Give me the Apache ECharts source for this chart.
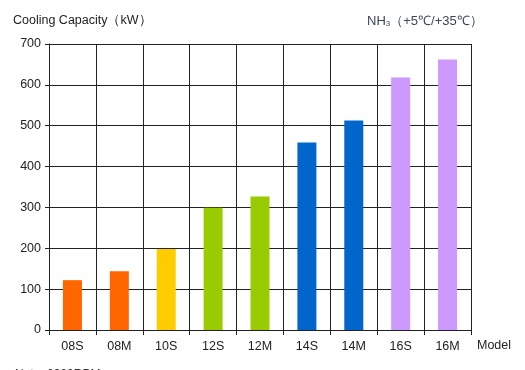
<!DOCTYPE html>
<html>
<head>
<meta charset="utf-8">
<script src="https://cdn.jsdelivr.net/npm/echarts@6/dist/echarts.min.js"></script>
<style>html,body{margin:0;padding:0;background:#fff;}#c{width:525px;height:370px;}</style>
</head>
<body>
<div id="c"></div>
<script>
const categories = ['08S','08M','10S','12S','12M','14S','14M','16S','16M'];
const capacity = [122, 144, 198, 299, 327, 459, 513, 618, 662];
const barColors = ['#FF6600','#FF6600','#FFCC00','#99CC00','#99CC00','#0066CC','#0066CC','#CC99FF','#CC99FF'];
const yTicks = [0,100,200,300,400,500,600,700];

const chart = echarts.init(document.getElementById('c'), null, {renderer:'canvas'});
chart.setOption({
  animation: false,
  backgroundColor: '#fff',
  title: [
    {text: 'Cooling Capacity（kW）', left: 8, top: 9, textStyle:{fontFamily:'Liberation Sans, Arial', fontSize:12.5, fontWeight:'normal', color:'#222'}},
    {text: '{a|NH}{s|3}{a|（+5℃/+35℃）}', left: 362, top: 9, textStyle:{fontWeight:'normal', rich:{
      a:{fontFamily:'Liberation Sans, Arial', fontSize:13, fontWeight:'normal', color:'#3a4660'},
      s:{fontFamily:'Liberation Sans, Arial', fontSize:8, fontWeight:'normal', color:'#3a4660', verticalAlign:'bottom', padding:[6,0,0,0]}
    }}},
    {text: 'Note: 2960RPM', left: 10, top: 364, textStyle:{fontFamily:'Liberation Sans, Arial', fontSize:12, fontWeight:'normal', color:'#333'}}
  ],
  grid: {left: 49, right: 54, top: 44, bottom: 40, containLabel: false},
  xAxis: {
    type: 'category',
    data: categories,
    boundaryGap: true,
    name: 'Model',
    nameLocation: 'end',
    nameGap: 6,
    nameTextStyle: {fontFamily:'Liberation Sans, Arial', fontSize:12.5, color:'#222', verticalAlign:'top', padding:[9,0,0,0]},
    axisLine: {show: true, lineStyle:{color:'#222', width:1}},
    axisTick: {show: true, alignWithLabel:false, length:5, inside:false, lineStyle:{color:'#222'}},
    axisLabel: {fontFamily:'Liberation Sans, Arial', fontSize:12.5, color:'#222', margin:10},
    splitLine: {show: true, lineStyle:{color:'#222', width:1}}
  },
  yAxis: {
    type: 'value',
    min: 0, max: 700, interval: 100,
    axisLine: {show: true, lineStyle:{color:'#222', width:1}},
    axisTick: {show: true, length:4, lineStyle:{color:'#222'}},
    axisLabel: {fontFamily:'Liberation Sans, Arial', fontSize:12.5, color:'#222', margin:8,
      formatter: v => yTicks.includes(v) ? String(v) : ''},
    splitLine: {show: true, lineStyle:{color:'#222', width:1}}
  },
  series: [{
    type: 'bar',
    barWidth: 19,
    data: capacity.map((v,i)=>({value:v, itemStyle:{color: barColors[i]}}))
  }]
});
</script>
</body>
</html>
